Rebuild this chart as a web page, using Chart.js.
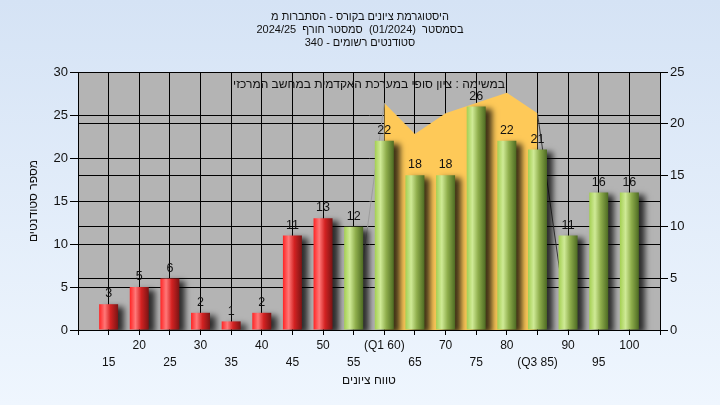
<!DOCTYPE html>
<html lang="he">
<head>
<meta charset="utf-8">
<title>היסטוגרמת ציונים</title>
<script src="https://cdn.jsdelivr.net/npm/chart.js@4/dist/chart.umd.min.js"></script>
<style>
  html, body { margin: 0; padding: 0; }
  body { width: 720px; height: 405px; overflow: hidden; }
  canvas { display: block; direction: rtl; }
</style>
</head>
<body>
<canvas id="grafico" width="720" height="405"></canvas>
<script>
// נתונים שנקראו מהגרף
const categories = ['15', '20', '25', '30', '35', '40', '45', '50', '55', '60', '65', '70', '75', '80', '85', '90', '95', '100'];
const tickLabels = ['15', '20', '25', '30', '35', '40', '45', '50', '55', '(Q1 60)', '65', '70', '75', '80', '(Q3 85)', '90', '95', '100'];
const counts = [3, 5, 6, 2, 1, 2, 11, 13, 12, 22, 18, 18, 26, 22, 21, 11, 16, 16];
// אזור בין הרבעונים (ציר ימני)
const iqrArea = [null, null, null, null, null, null, null, null, null, 22, 19, 21, 22, 23, 21, null, null, null];
const iqrEdges = [null, null, null, null, null, null, null, null, 0, 22, null, null, null, null, 21, 0, null, null];
const leftTicks = [0, 5, 10, 15, 20, 25, 30];
const rightTicks = [0, 5, 10, 15, 20, 25];
const passFrom = '55';

const titleLines = [
  'היסטוגרמת ציונים בקורס - הסתברות מ',
  'בסמסטר  (01/2024)  סמסטר חורף  2024/25',
  'סטודנטים רשומים - 340'
];
const subTitle = 'במשימה : ציון סופי במערכת האקדמית במחשב המרכזי';

const FONT = "'Liberation Sans', 'DejaVu Sans', sans-serif";

// ריפוד של קטגוריה ריקה בכל צד
const pad = arr => [null, ...arr, null];
const labels = ['', ...categories, ''];

function barFill(ctx) {
  const chart = ctx.chart;
  const xs = chart.scales.x;
  const cat = labels[ctx.dataIndex];
  const green = categories.indexOf(cat) >= categories.indexOf(passFrom);
  if (!xs || ctx.dataIndex == null) return green ? '#98c04a' : '#dd2222';
  const cx = xs.getPixelForValue(ctx.dataIndex);
  if (!isFinite(cx)) return green ? '#98c04a' : '#dd2222';
  const half = 9.5;
  const g = chart.ctx.createLinearGradient(cx - half, 0, cx + half, 0);
  if (green) {
    g.addColorStop(0, '#a4cf52');
    g.addColorStop(0.3, '#cfea96');
    g.addColorStop(0.6, '#8fae4c');
    g.addColorStop(1, '#4d6a22');
  } else {
    g.addColorStop(0, '#ff2424');
    g.addColorStop(0.3, '#ff7878');
    g.addColorStop(0.6, '#d42222');
    g.addColorStop(1, '#7a1414');
  }
  return g;
}

const fondo = {
  id: 'fondo',
  beforeDraw(chart) {
    const { ctx, width, height, chartArea: a } = chart;
    ctx.save();
    const g = ctx.createLinearGradient(0, 0, 0, height);
    g.addColorStop(0, '#d5e3f5');
    g.addColorStop(1, '#eff6fe');
    ctx.fillStyle = g;
    ctx.fillRect(0, 0, width, height);
    ctx.fillStyle = '#b4b4b4';
    ctx.fillRect(a.left, a.top, a.right - a.left, a.bottom - a.top);
    ctx.restore();
  }
};

const sombra = {
  id: 'sombra',
  beforeDatasetDraw(chart, args) {
    if (args.meta.type !== 'bar') return;
    const ctx = chart.ctx;
    ctx.save();
    ctx.shadowColor = 'rgba(0,0,0,0.75)';
    ctx.shadowBlur = 6;
    ctx.shadowOffsetX = 6;
    ctx.shadowOffsetY = 3;
  },
  afterDatasetDraw(chart, args) {
    if (args.meta.type !== 'bar') return;
    chart.ctx.restore();
  }
};

const etiquetas = {
  id: 'etiquetas',
  afterDatasetsDraw(chart) {
    const { ctx, chartArea: a } = chart;
    ctx.save();
    ctx.fillStyle = '#111';
    ctx.textAlign = 'center';
    ctx.textBaseline = 'middle';
    ctx.font = '12px ' + FONT;
    ctx.fillText(subTitle, (a.left + a.right) / 2, a.top + 13);
    const meta = chart.getDatasetMeta(0);
    ctx.textBaseline = 'bottom';
    ctx.font = '12.5px ' + FONT;
    meta.data.forEach((bar, i) => {
      const v = chart.data.datasets[0].data[i];
      if (v == null) return;
      ctx.fillText(String(v), bar.x, bar.y - 4);
    });
    ctx.restore();
  }
};

const chart = new Chart(document.getElementById('grafico'), {
  type: 'bar',
  data: {
    labels,
    datasets: [
      {
        type: 'bar',
        label: 'סטודנטים',
        data: pad(counts),
        yAxisID: 'y',
        backgroundColor: barFill,
        borderWidth: 0,
        categoryPercentage: 1,
        barPercentage: 0.62,
        order: 0
      },
      {
        type: 'line',
        label: 'גבולות',
        data: pad(iqrEdges),
        yAxisID: 'y1',
        fill: false,
        borderWidth: 1,
        pointRadius: 0,
        tension: 0,
        segment: {
          borderColor: c => (c.p0DataIndex === 9 ? '#9c9c9c' : '#3c3c3c')
        },
        order: 1
      },
      {
        type: 'line',
        label: 'Q1-Q3',
        data: pad(iqrArea),
        yAxisID: 'y1',
        fill: 'origin',
        backgroundColor: '#fec958',
        borderColor: 'rgba(0,0,0,0)',
        borderWidth: 0,
        pointRadius: 0,
        tension: 0,
        order: 2
      }
    ]
  },
  options: {
    responsive: false,
    devicePixelRatio: 1,
    animation: false,
    layout: { padding: 0 },
    plugins: {
      legend: { display: false },
      tooltip: { enabled: false },
      title: {
        display: true,
        text: titleLines,
        color: '#111',
        font: { family: FONT, size: 11, weight: 'normal', lineHeight: 1.2 },
        padding: { top: 10, bottom: 22.4 }
      }
    },
    scales: {
      x: {
        type: 'category',
        offset: false,
        grid: { color: '#000', lineWidth: 1, offset: false, tickLength: 5, drawTicks: true },
        border: { color: '#000' },
        ticks: {
          autoSkip: false,
          maxRotation: 0,
          minRotation: 0,
          padding: 2,
          color: '#111',
          font: { family: FONT, size: 12, lineHeight: 1.4 },
          callback: (v, i) => {
            const k = i - 1;
            if (k < 0 || k >= tickLabels.length) return '';
            return k % 2 === 0 ? ['', tickLabels[k]] : tickLabels[k];
          }
        },
        title: {
          display: true,
          text: 'טווח ציונים',
          color: '#111',
          font: { family: FONT, size: 12 },
          padding: { top: 17, bottom: 17 }
        },
        afterFit: s => { s.height = 75; }
      },
      y: {
        position: 'left',
        min: 0,
        max: 30,
        afterBuildTicks: s => { s.ticks = leftTicks.map(value => ({ value })); },
        grid: { color: '#000', lineWidth: 1, tickLength: 8 },
        border: { color: '#000' },
        ticks: { color: '#111', padding: 2, font: { family: FONT, size: 13 } },
        title: {
          display: true,
          text: 'מספר סטודנטים',
          color: '#111',
          font: { family: FONT, size: 12 },
          padding: { top: 26, bottom: 26 }
        },
        afterFit: s => { s.width = 78; }
      },
      y1: {
        position: 'right',
        min: 0,
        max: 25,
        afterBuildTicks: s => { s.ticks = rightTicks.map(value => ({ value })); },
        grid: { color: '#000', lineWidth: 1, tickLength: 8 },
        border: { color: '#000' },
        ticks: { color: '#111', padding: 2, font: { family: FONT, size: 13 } },
        afterFit: s => { s.width = 60; }
      }
    }
  },
  plugins: [fondo, sombra, etiquetas]
});
// segundo paso para que los degradados usen la escala ya medida
chart.update();
</script>
</body>
</html>
